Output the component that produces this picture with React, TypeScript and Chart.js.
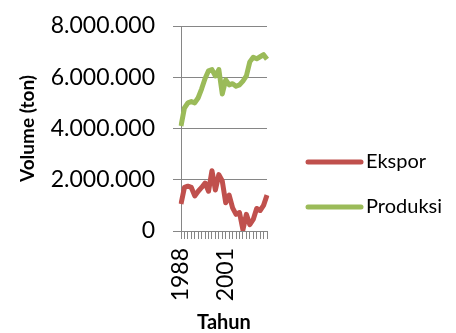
import React, { useEffect, useRef } from "react";
import { Chart, registerables } from "chart.js";

Chart.register(...registerables);

const years: string[] = [
  "1988", "1989", "1990", "1991", "1992", "1993", "1994", "1995", "1996",
  "1997", "1998", "1999", "2000", "2001", "2002", "2003", "2004", "2005",
  "2006", "2007", "2008", "2009", "2010", "2011", "2012", "2013",
];

const ekspor: number[] = [
  1050000, 1700000, 1750000, 1700000, 1370000, 1550000, 1700000, 1870000,
  1550000, 2350000, 1600000, 2200000, 1950000, 1100000, 1400000, 900000,
  650000, 720000, 50000, 650000, 250000, 450000, 880000, 800000, 1000000,
  1400000,
];

const produksi: number[] = [
  4100000, 4800000, 5000000, 5050000, 5000000, 5200000, 5550000, 5950000,
  6250000, 6300000, 6050000, 6300000, 5350000, 5900000, 5700000, 5750000,
  5650000, 5700000, 5850000, 6050000, 6600000, 6780000, 6720000, 6800000,
  6880000, 6700000,
];

const seriesNames: string[] = ["Ekspor", "Produksi"];
const seriesColors: string[] = ["#C0504D", "#9BBB59"];
const yTicks: number[] = [0, 2000000, 4000000, 6000000, 8000000];

const FONT = "Lato";

function fmt(v: number): string {
  return Math.round(v)
    .toString()
    .replace(/\B(?=(\d{3})+(?!\d))/g, ".");
}

const legendPlugin = {
  id: "customLegend",
  afterDraw(chart: any) {
    const ctx = chart.ctx as CanvasRenderingContext2D;
    ctx.save();
    chart.data.datasets.forEach((ds: any, i: number) => {
      const y = 162 + i * 45;
      ctx.strokeStyle = ds.borderColor;
      ctx.lineWidth = 5;
      ctx.lineCap = "round";
      ctx.beginPath();
      ctx.moveTo(308, y);
      ctx.lineTo(361, y);
      ctx.stroke();
      ctx.fillStyle = "#000";
      ctx.font = `20px ${FONT}`;
      ctx.textAlign = "left";
      ctx.textBaseline = "middle";
      ctx.fillText(ds.label, 366, y);
    });
    ctx.restore();
  },
};

export default function App() {
  const ref = useRef<HTMLCanvasElement | null>(null);

  useEffect(() => {
    if (!ref.current) return;
    const chart = new Chart(ref.current, {
      type: "line",
      data: {
        labels: years,
        datasets: [
          {
            label: seriesNames[0],
            data: ekspor,
            borderColor: seriesColors[0],
            backgroundColor: seriesColors[0],
            borderWidth: 5,
            pointRadius: 0,
            tension: 0,
            borderJoinStyle: "round",
          },
          {
            label: seriesNames[1],
            data: produksi,
            borderColor: seriesColors[1],
            backgroundColor: seriesColors[1],
            borderWidth: 5,
            pointRadius: 0,
            tension: 0,
            borderJoinStyle: "round",
          },
        ],
      },
      options: {
        animation: false,
        responsive: false,
        devicePixelRatio: 1,
        layout: { padding: { top: 26, right: 189, bottom: 0, left: 0 } },
        plugins: {
          legend: { display: false },
          tooltip: { enabled: false },
        },
        scales: {
          x: {
            type: "category",
            offset: false,
            border: { color: "#868686", width: 1 },
            grid: {
              drawOnChartArea: false,
              drawTicks: true,
              tickLength: 8,
              color: "#868686",
            },
            ticks: {
              autoSkip: false,
              minRotation: 90,
              maxRotation: 90,
              padding: 9,
              color: "#000",
              font: { family: FONT, size: 23 },
              callback: (_v: any, i: number) => (i % 13 === 0 ? years[i] : ""),
            },
            title: {
              display: true,
              text: "Tahun",
              color: "#000",
              font: { family: FONT, size: 20, weight: "bold", lineHeight: 1.0 },
              padding: { top: 0, bottom: 0 },
            },
            afterFit: (scale: any) => {
              scale.height = 102;
            },
          },
          y: {
            min: 0,
            max: 8000000,
            border: { color: "#868686", width: 1 },
            grid: {
              color: "#868686",
              drawTicks: true,
              tickLength: 8,
            },
            afterBuildTicks: (scale: any) => {
              scale.ticks = yTicks.map((v) => ({ value: v }));
            },
            ticks: {
              padding: 18,
              color: "#000",
              font: { family: FONT, size: 23 },
              callback: (v: any) => fmt(Number(v)),
            },
            title: {
              display: true,
              text: "Volume (ton)",
              color: "#000",
              font: { family: FONT, size: 19, weight: "bold", lineHeight: 1.2 },
              padding: { top: 16, bottom: 0 },
            },
            afterFit: (scale: any) => {
              scale.width = 181;
              scale.paddingTop = 12;
              scale.paddingBottom = 12;
            },
          },
        },
      },
      plugins: [legendPlugin],
    });
    return () => chart.destroy();
  }, []);

  return (
    <div style={{ position: "absolute", left: 0, top: 0, width: 456, height: 333 }}>
      <canvas ref={ref} width={456} height={333} />
    </div>
  );
}
